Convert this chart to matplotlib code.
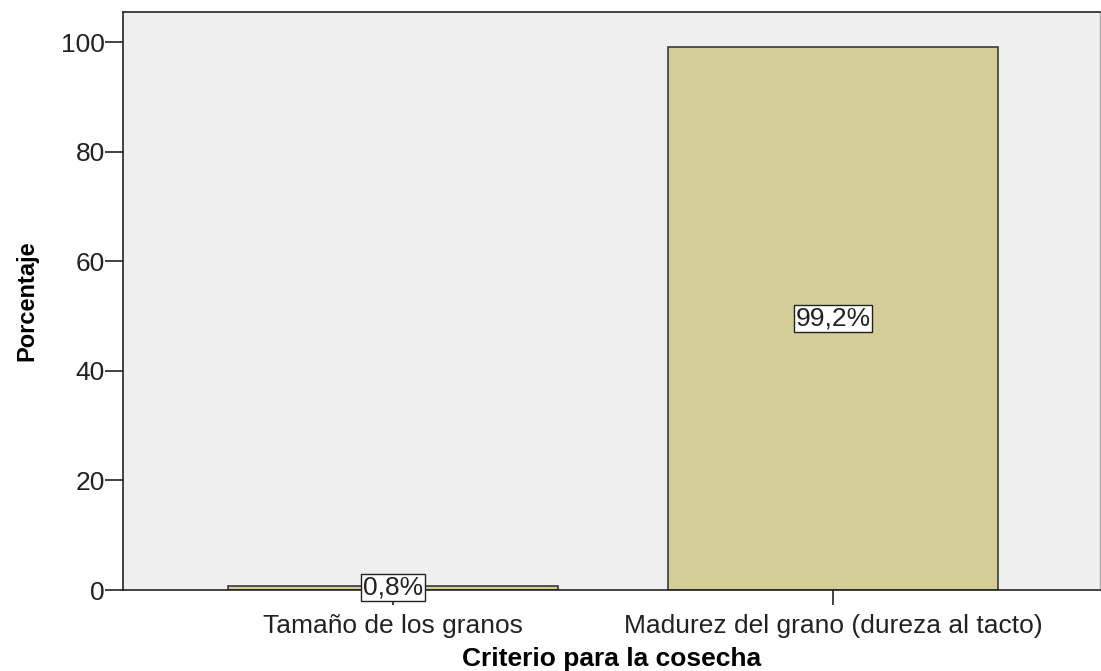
import matplotlib
matplotlib.use("Agg")
import matplotlib.pyplot as plt

categories = ["Tamaño de los granos", "Madurez del grano (dureza al tacto)"]
values = [0.8, 99.2]
labels = ["0,8%", "99,2%"]
yticks = [0, 20, 40, 60, 80, 100]

plt.rcParams['font.family'] = ['Liberation Sans', 'DejaVu Sans']

fig = plt.figure(figsize=(11.01, 6.71), dpi=100)
W, H = 1101, 671
ax = fig.add_axes([123 / W, (H - 590) / H, (1100 - 123) / W, (590 - 12) / H])
ax.set_facecolor('#efefef')

x = list(range(len(categories)))
ax.bar(x, values, width=0.75, color='#d3ce97', edgecolor='#3a3a3a', linewidth=1.2, zorder=2)

for xi, v, lab in zip(x, values, labels):
    ax.text(xi, v / 2, lab, ha='center', va='center', fontsize=19, color='#222222', zorder=4,
            bbox=dict(boxstyle='square,pad=0.06', facecolor='white', edgecolor='#222222', linewidth=1.0))

ax.set_xlim(-0.614, 1.607)
ax.set_ylim(0, 105.5)
ax.set_yticks(yticks)
ax.set_yticklabels([str(t) for t in yticks])
ax.set_xticks(x)
ax.set_xticklabels(categories)

ax.tick_params(axis='y', direction='out', length=13, width=1.2, labelsize=19, color='#222222',
               labelcolor='#222222', pad=0)
ax.tick_params(axis='x', direction='out', length=11, width=1.2, labelsize=19, color='#222222',
               labelcolor='#222222', pad=6)

ax.set_ylabel('Porcentaje', fontsize=17, fontweight='bold')
ax.yaxis.set_label_coords((27 - 123) / 977, 0.5)
ax.yaxis.label.set_verticalalignment('center')
ax.set_xlabel('Criterio para la cosecha', fontsize=19, fontweight='bold')
ax.xaxis.set_label_coords(0.5, (590 - 666) / 578)
ax.xaxis.label.set_verticalalignment('baseline')

for s in ['left', 'bottom', 'top']:
    ax.spines[s].set_color('#222222')
    ax.spines[s].set_linewidth(1.2)
ax.spines['right'].set_color('#aaaaaa')
ax.spines['right'].set_linewidth(1.0)

fig.savefig('out.png', dpi=100, facecolor='white')
